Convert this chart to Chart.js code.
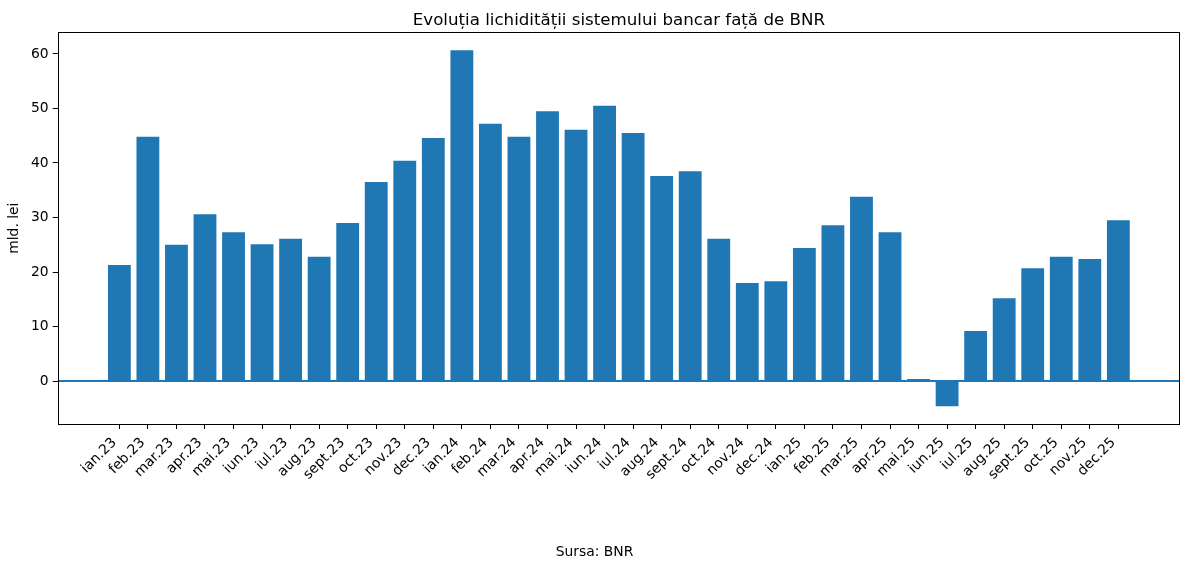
<!DOCTYPE html>
<html>
<head>
<meta charset="utf-8">
<script src="https://cdn.jsdelivr.net/npm/chart.js@4"></script>
<style>
  html, body { margin: 0; padding: 0; background: #ffffff; }
  #wrap { width: 1189px; height: 568px; }
</style>
</head>
<body>
<div id="wrap"><canvas id="c" width="1189" height="568"></canvas></div>
<script>
const categories = ["ian.23","feb.23","mar.23","apr.23","mai.23","iun.23","iul.23","aug.23","sept.23","oct.23","nov.23","dec.23",
  "ian.24","feb.24","mar.24","apr.24","mai.24","iun.24","iul.24","aug.24","sept.24","oct.24","nov.24","dec.24",
  "ian.25","feb.25","mar.25","apr.25","mai.25","iun.25","iul.25","aug.25","sept.25","oct.25","nov.25","dec.25"];
const liquidity = [21.3,44.8,25.0,30.6,27.3,25.1,26.1,22.8,29.0,36.5,40.4,44.6,
  60.7,47.2,44.8,49.5,46.1,50.5,45.5,37.6,38.5,26.1,18.0,18.3,
  24.4,28.6,33.8,27.3,0.4,-4.6,9.2,15.2,20.7,22.8,22.4,29.5];
const yTicks = [0,10,20,30,40,50,60];
const titleText = "Evoluția lichidității sistemului bancar față de BNR";
const yLabel = "mld. lei";
const sourceText = "Sursa: BNR";

const BLUE = "#1f77b4";
const xMin = -2.16, xMax = categories.length - 1 + 2.16;

const textPlugin = {
  id: 'texts',
  afterDraw(chart) {
    const ctx = chart.ctx, a = chart.chartArea;
    ctx.save();
    ctx.strokeStyle = '#000';
    ctx.lineWidth = 1;
    ctx.strokeRect(Math.round(a.left) + 0.5, Math.round(a.top) + 0.5, Math.round(a.right - a.left) - 1, Math.round(a.bottom - a.top));
    ctx.fillStyle = '#000';
    ctx.textAlign = 'center';
    ctx.textBaseline = 'alphabetic';
    ctx.font = '16.67px "DejaVu Sans"';
    ctx.fillText(titleText, (a.left + a.right) / 2, 24.5);
    ctx.font = '13.89px "DejaVu Sans"';
    ctx.fillText(sourceText, chart.width / 2, 556);
    ctx.restore();
  }
};

new Chart(document.getElementById('c'), {
  type: 'bar',
  data: {
    datasets: [
      {
        type: 'line',
        data: [{x: xMin, y: 0}, {x: xMax, y: 0}],
        borderColor: BLUE,
        borderWidth: 2,
        pointRadius: 0,
        order: 0
      },
      {
        type: 'bar',
        data: liquidity.map((v, i) => ({x: i, y: v})),
        backgroundColor: BLUE,
        borderWidth: 0,
        categoryPercentage: 1.0,
        barPercentage: 0.8,
        order: 1
      }
    ]
  },
  options: {
    responsive: false,
    animation: false,
    devicePixelRatio: 1,
    layout: { padding: { top: 32.3, right: 9, bottom: 0, left: 0 } },
    plugins: { legend: { display: false }, tooltip: { enabled: false }, title: { display: false } },
    scales: {
      x: {
        type: 'linear',
        min: xMin,
        max: xMax,
        offset: false,
        afterBuildTicks(scale) { scale.ticks = categories.map((_, i) => ({ value: i })); },
        afterFit(scale) { scale.height = 568 - 424; },
        grid: { display: true, offset: false, drawOnChartArea: false, drawTicks: true, tickLength: 5, color: '#000', lineWidth: 1 },
        border: { display: false },
        ticks: {
          autoSkip: false,
          maxRotation: 45,
          minRotation: 45,
          padding: 5.5,
          labelOffset: -5,
          color: '#000',
          font: { family: 'DejaVu Sans', size: 13.89 },
          callback: (v) => categories[v]
        }
      },
      y: {
        min: -7.87,
        max: 63.97,
        afterBuildTicks(scale) { scale.ticks = yTicks.map(v => ({ value: v })); },
        afterFit(scale) { scale.width = 57.7; },
        grid: { display: true, offset: false, drawOnChartArea: false, drawTicks: true, tickLength: 5, color: '#000', lineWidth: 1 },
        border: { display: false },
        ticks: { padding: 4, color: '#000', font: { family: 'DejaVu Sans', size: 13.89 } },
        title: { display: true, text: yLabel, color: '#000', font: { family: 'DejaVu Sans', size: 13.89 }, padding: { top: 6, bottom: 0 } }
      }
    }
  },
  plugins: [textPlugin]
});
</script>
</body>
</html>
